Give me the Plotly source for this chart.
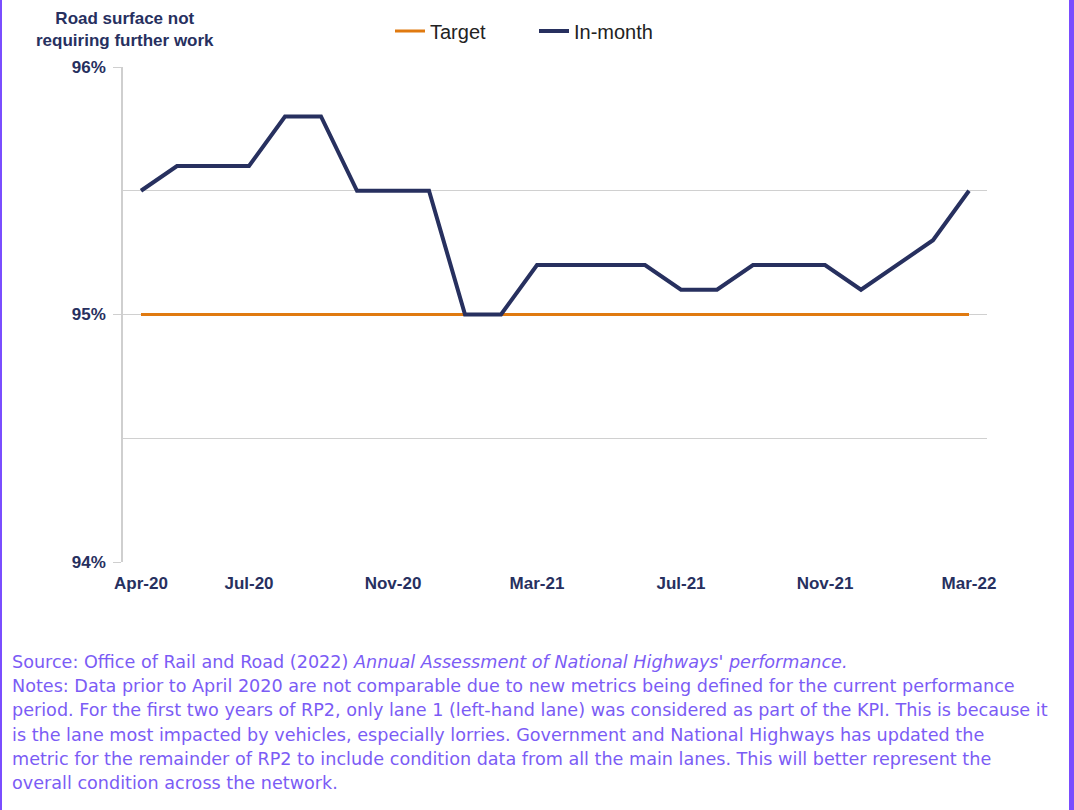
import plotly.graph_objects as go

months = ["Apr-20","May-20","Jun-20","Jul-20","Aug-20","Sep-20","Oct-20","Nov-20","Dec-20",
          "Jan-21","Feb-21","Mar-21","Apr-21","May-21","Jun-21","Jul-21","Aug-21","Sep-21",
          "Oct-21","Nov-21","Dec-21","Jan-22","Feb-22","Mar-22"]
in_month = [95.5,95.6,95.6,95.6,95.8,95.8,95.5,95.5,95.5,
            95.0,95.0,95.2,95.2,95.2,95.2,95.1,95.1,95.2,
            95.2,95.2,95.1,95.2,95.3,95.5]
target = [95.0]*24
x_tick_labels = ["Apr-20","Jul-20","Nov-20","Mar-21","Jul-21","Nov-21","Mar-22"]
y_tick_vals = [94, 95, 96]
y_tick_text = ["94%", "95%", "96%"]
caption_lines = [
    "Source: Office of Rail and Road (2022) <i>Annual Assessment of National Highways' performance.</i>",
    "Notes: Data prior to April 2020 are not comparable due to new metrics being defined for the current performance",
    "period. For the first two years of RP2, only lane 1 (left-hand lane) was considered as part of the KPI. This is because it",
    "is the lane most impacted by vehicles, especially lorries. Government and National Highways has updated the",
    "metric for the remainder of RP2 to include condition data from all the main lanes. This will better represent the",
    "overall condition across the network.",
]

xi = list(range(len(months)))
tick_idx = [months.index(m) for m in x_tick_labels]

NAVY = "#27305f"
ORANGE = "#e07a10"
PURPLE = "#7b5cf5"

W, H = 1074, 810
L, R, T, B = 123, 87, 67, 248
pw, ph = W - L - R, H - T - B

def px_x(p):
    return (p - L) / pw

def px_y(p):
    return (H - B - p) / ph

fig = go.Figure()
fig.add_trace(go.Scatter(x=xi, y=target, mode="lines", name="Target",
                         line=dict(color=ORANGE, width=3), legend="legend"))
fig.add_trace(go.Scatter(x=xi, y=in_month, mode="lines", name="In-month",
                         line=dict(color=NAVY, width=4), legend="legend2"))

leg_common = dict(orientation="h", xanchor="left", yanchor="middle",
                  font=dict(size=20, color="#222222"), bgcolor="rgba(0,0,0,0)",
                  itemwidth=30)

fig.update_layout(
    width=W, height=H,
    margin=dict(l=L, r=R, t=T, b=B),
    plot_bgcolor="white", paper_bgcolor="white",
    font=dict(family="Liberation Sans, Arial, sans-serif", color=NAVY),
    showlegend=True,
    legend=dict(x=px_x(390), y=px_y(31), **leg_common),
    legend2=dict(x=px_x(534), y=px_y(31), **leg_common),
    xaxis=dict(range=[-0.5, 23.5], tickvals=tick_idx, ticktext=x_tick_labels,
               showgrid=False, zeroline=False, showline=False, ticks="",
               tickfont=dict(size=17, color=NAVY, family="Liberation Sans, Arial", weight="bold"),
               ticklabelstandoff=9),
    yaxis=dict(range=[94, 96], tickvals=y_tick_vals, ticktext=y_tick_text,
               showgrid=True, gridcolor="#d0d0d0", gridwidth=1.3,
               minor=dict(dtick=0.5, tick0=94, showgrid=True, gridcolor="#d0d0d0", gridwidth=1.3),
               zeroline=False, showline=True, linecolor="#cfcfcf", linewidth=1.5,
               ticks="outside", ticklen=8, tickcolor="#cfcfcf",
               tickfont=dict(size=17, color=NAVY, family="Liberation Sans, Arial", weight="bold"),
               ticklabelstandoff=4),
)

fig.add_annotation(xref="paper", yref="paper", x=px_x(125), y=px_y(30),
                   xanchor="center", yanchor="middle", showarrow=False,
                   text="<b>Road surface not<br>requiring further work</b>",
                   font=dict(size=17, color=NAVY), align="center")

for i, line in enumerate(caption_lines):
    fig.add_annotation(xref="paper", yref="paper", x=px_x(10), y=px_y(662 + 24.2 * i),
                       xanchor="left", yanchor="middle", showarrow=False, align="left",
                       text=line, font=dict(size=17.6, color=PURPLE, family="DejaVu Sans"))

# purple frame edges
fig.add_shape(type="rect", xref="paper", yref="paper",
              x0=px_x(0), x1=px_x(2), y0=px_y(H), y1=px_y(0),
              fillcolor="#7a4dff", line=dict(width=0), layer="above")
fig.add_shape(type="rect", xref="paper", yref="paper",
              x0=px_x(1069), x1=px_x(1075), y0=px_y(H), y1=px_y(0),
              fillcolor="#7a4dff", line=dict(width=0), layer="above")

fig.write_html("out.html", config={"displayModeBar": False},
               post_script="document.body.style.margin='0';document.body.style.overflow='hidden';")
